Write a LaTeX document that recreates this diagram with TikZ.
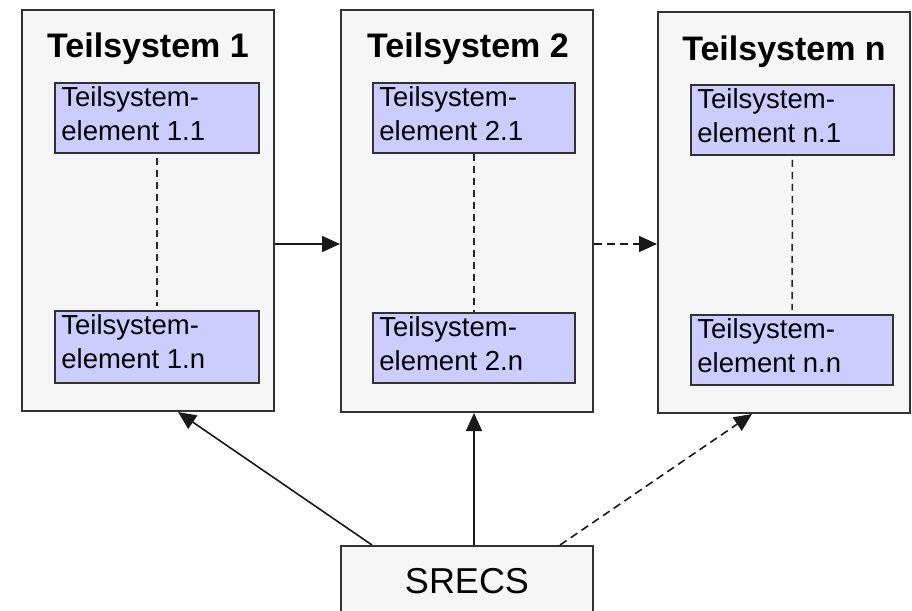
\documentclass[tikz,border=0pt]{standalone}
\usepackage{fontspec}
\setmainfont{Liberation Sans}
\usetikzlibrary{arrows.meta,calc}
\definecolor{boxfill}{RGB}{246,246,246}
\definecolor{elemfill}{RGB}{204,204,255}
\definecolor{edge}{RGB}{50,50,50}
\tikzset{
  sysbox/.style={draw=edge, fill=boxfill, line width=2pt, minimum width=252pt, inner sep=0pt},
  elembox/.style={draw=edge, fill=elemfill, line width=1.6pt, inner sep=0pt},
  elemtext/.style={anchor=north west, inner sep=0pt, align=left, font=\fontsize{27.5}{34.5}\selectfont},
  titletext/.style={anchor=base, inner sep=0pt, font=\bfseries\fontsize{34}{40}\selectfont},
  conn/.style={draw=black!90, line width=1.6pt, -{Triangle[length=18pt,width=16pt]}},
  dconn/.style={conn, dash pattern=on 8pt off 5pt},
  inner/.style={draw=black!85, line width=1.5pt, dash pattern=on 7pt off 5pt}
}
\begin{document}
\begin{tikzpicture}[x=1pt,y=-1pt]
\useasboundingbox[fill=white] (0,0) rectangle (912,610);
% subsystem boxes
\node[sysbox, minimum height=401pt] (b1) at (148,210.5) {};
\node[sysbox, minimum height=402pt] (b2) at (467,211) {};
\node[sysbox, minimum height=401pt] (b3) at (784,212.5) {};
% titles
\node[titletext] (t1) at (148,57) {Teilsystem 1};
\node[titletext] (t2) at (468,57) {Teilsystem 2};
\node[titletext] (t3) at (784,60) {Teilsystem n};
% elements
\node[elembox, minimum width=204pt, minimum height=70pt] (e11) at (157,118) {};
\node[elembox, minimum width=204pt, minimum height=72pt] (e1n) at (157,347) {};
\node[elembox, minimum width=202pt, minimum height=70pt] (e21) at (474,118) {};
\node[elembox, minimum width=202pt, minimum height=70pt] (e2n) at (474,348) {};
\node[elembox, minimum width=203pt, minimum height=70pt] (en1) at (792.5,120) {};
\node[elembox, minimum width=202pt, minimum height=70pt] (enn) at (792,350) {};
\node[elemtext] (x11) at ($(e11.north west)+(7,4)$) {Teilsystem-\\element 1.1};
\node[elemtext] (x1n) at ($(e1n.north west)+(7,4)$) {Teilsystem-\\element 1.n};
\node[elemtext] (x21) at ($(e21.north west)+(7,4)$) {Teilsystem-\\element 2.1};
\node[elemtext] (x2n) at ($(e2n.north west)+(7,4)$) {Teilsystem-\\element 2.n};
\node[elemtext] (xn1) at ($(en1.north west)+(7,4)$) {Teilsystem-\\element n.1};
\node[elemtext] (xnn) at ($(enn.north west)+(7,4)$) {Teilsystem-\\element n.n};
% inner dashed lines
\draw[inner, shorten <=4pt, shorten >=4pt] (e11.south) -- (e1n.north);
\draw[inner] (e21.south) -- (e2n.north);
\draw[inner, shorten <=4pt, shorten >=4pt] (en1.south) -- (enn.north);
% SRECS
\node[draw=edge, fill=boxfill, line width=2pt, minimum width=252pt, minimum height=100pt, inner sep=0pt] (sr) at (467,596) {};
\node[anchor=base, inner sep=0pt, font=\fontsize{36}{40}\selectfont] (srt) at (467,593) {SRECS};
% connectors
\draw[conn] (b1.east |- 0,244) -- (b2.west |- 0,244);
\draw[dconn] (b2.east |- 0,244) -- (b3.west |- 0,244);
\draw[conn] (sr.north -| 372,0) -- (b1.south -| 178,0);
\draw[conn] (sr.north -| 474,0) -- (b2.south -| 474,0);
\draw[dconn] (sr.north -| 560,0) -- (b3.south -| 752,0);
\end{tikzpicture}
\end{document}
